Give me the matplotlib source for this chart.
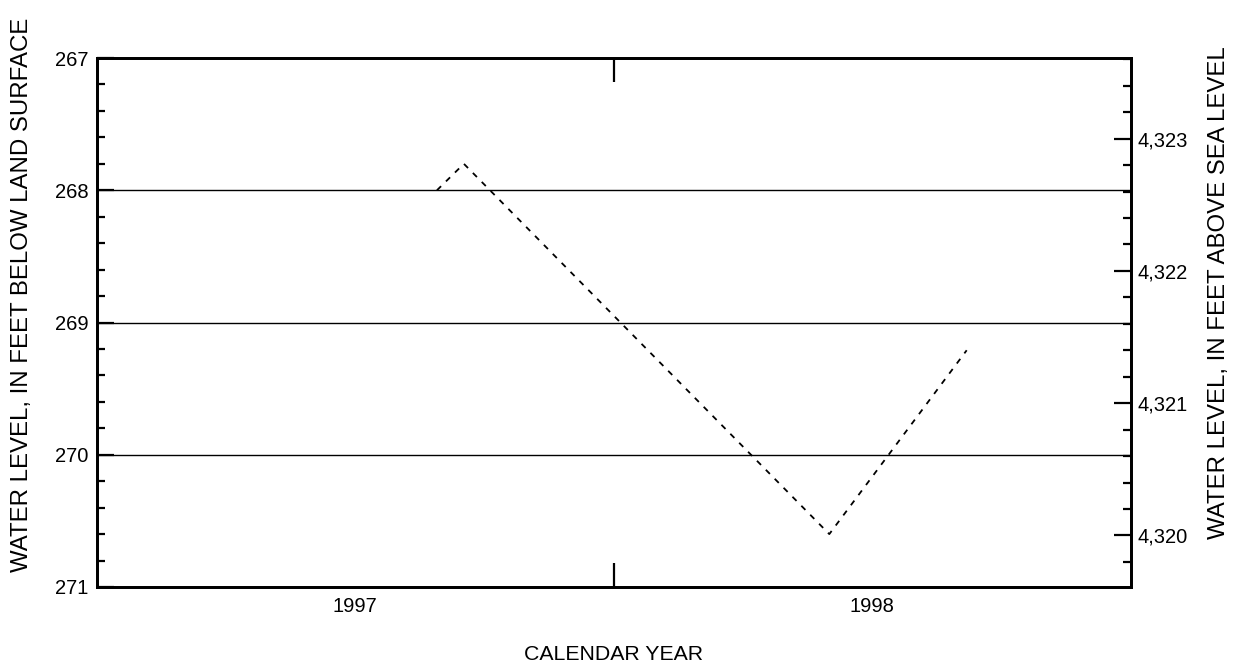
import datetime as dt
import matplotlib
matplotlib.use("Agg")
import matplotlib.pyplot as plt
import matplotlib.dates as mdates
import matplotlib.transforms as mtransforms
from matplotlib.ticker import MultipleLocator, FuncFormatter, FixedLocator, NullFormatter

plt.rcParams['font.family'] = ['Liberation Sans', 'DejaVu Sans']

# Data
dates = [dt.date(1997, 8, 29), dt.date(1997, 9, 17), dt.date(1998, 6, 2), dt.date(1998, 9, 7)]
depth = [268.0, 267.80, 270.60, 269.21]
land_surface_elev = 4590.61
year_labels = ['1997', '1998']
year_label_dates = [dt.date(1997, 7, 2), dt.date(1998, 7, 2)]

W, H = 1238, 663
fig = plt.figure(figsize=(W / 100, H / 100), dpi=100)
ax = fig.add_axes([97/W, (H-587)/H, (1131-97)/W, (587-58)/H])

ax.plot(dates, depth, color='black', lw=1.3, linestyle=(0, (3.2, 3.8)))

ax.set_xlim(dt.date(1997, 1, 1), dt.date(1999, 1, 1))
ax.set_ylim(271, 267)

for g in [268, 269, 270]:
    ax.axhline(g, color='black', lw=1.0)

# x ticks
ax.xaxis.set_major_locator(FixedLocator([mdates.date2num(dt.date(1998, 1, 1))]))
ax.xaxis.set_major_formatter(NullFormatter())
ax.tick_params(axis='x', which='major', direction='in', length=17, width=1.6,
               top=True, bottom=True, labelbottom=False)
blend = mtransforms.blended_transform_factory(ax.transData, fig.transFigure)
for d, lab in zip(year_label_dates, year_labels):
    ax.text(mdates.date2num(d), 1 - 612/H, lab, transform=blend,
            ha='center', va='baseline', fontsize=14.5)
fig.text((97 + 1131) / 2 / W, 1 - 660/H, 'CALENDAR YEAR', ha='center', va='baseline', fontsize=15.3)

# left y ticks
ax.yaxis.set_major_locator(MultipleLocator(1))
ax.yaxis.set_minor_locator(MultipleLocator(0.2))
ax.yaxis.set_major_formatter(FuncFormatter(lambda v, p: f'{v:.0f}'))
ax.tick_params(axis='y', which='major', direction='in', length=12, width=1.6, labelsize=14.5, pad=6)
ax.tick_params(axis='y', which='minor', direction='in', length=6, width=1.6)
fig.text(22/W, 1 - 295/H, 'WATER LEVEL, IN FEET BELOW LAND SURFACE', rotation=90,
         ha='center', va='center', fontsize=17.3)

for s in ax.spines.values():
    s.set_linewidth(2)

# right axis
ax2 = ax.twinx()
ax2.set_ylim(land_surface_elev - 271, land_surface_elev - 267)
ax2.yaxis.set_major_locator(MultipleLocator(1))
ax2.yaxis.set_minor_locator(MultipleLocator(0.2))
ax2.yaxis.set_major_formatter(FuncFormatter(lambda v, p: f'{v:,.0f}'))
ax2.tick_params(axis='y', which='major', direction='in', length=12, width=1.6, labelsize=14.5, pad=5)
ax2.tick_params(axis='y', which='minor', direction='in', length=6, width=1.6)
fig.text(1219/W, 1 - 293/H, 'WATER LEVEL, IN FEET ABOVE SEA LEVEL', rotation=90,
         ha='center', va='center', fontsize=17.3)
for s in ax2.spines.values():
    s.set_linewidth(2)

fig.savefig('out.png', dpi=100)
